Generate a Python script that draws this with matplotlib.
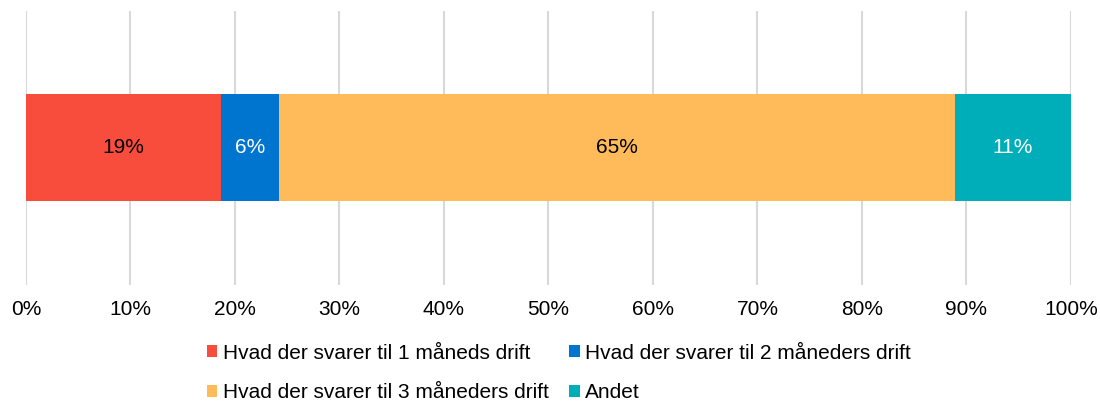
import matplotlib
matplotlib.use("Agg")
import matplotlib.pyplot as plt
from matplotlib.ticker import PercentFormatter

plt.rcParams['font.family'] = ['Liberation Sans', 'DejaVu Sans']

categories = ["Hvad der svarer til 1 måneds drift",
              "Hvad der svarer til 2 måneders drift",
              "Hvad der svarer til 3 måneders drift",
              "Andet"]
values = [18.7, 5.5, 64.7, 11.1]
labels = ["19%", "6%", "65%", "11%"]
colors = ["#F84C3C", "#0075CF", "#FFBA5A", "#00AEBA"]
text_colors = ["black", "white", "black", "white"]

fig = plt.figure(figsize=(11, 4.03), dpi=100)
ax = fig.add_axes([0.0236, 0.293, 0.95, 0.68])

left = 0
bars = []
for cat, v, lab, c, tc in zip(categories, values, labels, colors, text_colors):
    b = ax.barh(0, v, left=left, height=0.39, color=c, label=cat, zorder=3)
    bars.append(b)
    ax.text(left + v / 2, 0, lab, ha="center", va="center", color=tc, fontsize=15, zorder=4)
    left += v

ax.set_xlim(0, 100)
ax.set_ylim(-0.5, 0.5)
ax.set_xticks(range(0, 101, 10))
ax.xaxis.set_major_formatter(PercentFormatter(decimals=0))
ax.set_yticks([])
ax.tick_params(axis="x", length=0, labelsize=15, pad=11)
ax.grid(axis="x", color="#D9D9D9", linewidth=1.5, zorder=0)
for s in ax.spines.values():
    s.set_visible(False)

# legend fills column-wise, so reorder to get row-wise order
order = [0, 2, 1, 3]
fig.legend([bars[i] for i in order], [categories[i] for i in order],
           loc="lower center", bbox_to_anchor=(0.508, -0.045), ncol=2, frameon=False,
           fontsize=15, handlelength=0.5, handleheight=0.5, handletextpad=0.25,
           columnspacing=1.0, labelspacing=1.0)

fig.savefig("out.png", dpi=100)
